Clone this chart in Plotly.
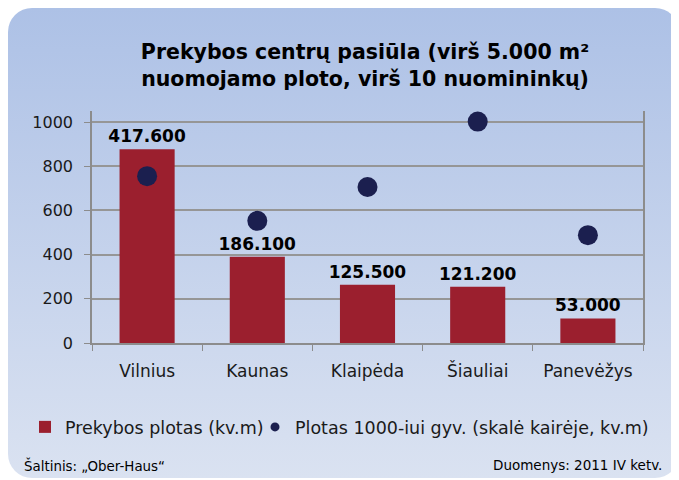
import base64
import plotly.graph_objects as go

OFF = 8                      # browser body margin
W, H = 679 - OFF, 480 - OFF  # figure size so the page fills the window
# plot area in page pixels: left 92, right 643, top 111, bottom 343
L, T = 92 - OFF, 111 - OFF
R = W - (643 - OFF)
B = H - (343 - OFF)

cities = ["Vilnius", "Kaunas", "Klaipėda", "Šiauliai", "Panevėžys"]
retail_area = [417600, 186100, 125500, 121200, 53000]          # kv.m (hidden scale)
area_per_1000 = [755, 553, 706, 1002, 488]                      # kv.m per 1000 inhabitants (left scale)
y_ticks = [0, 200, 400, 600, 800, 1000]

title_text = "<b>Prekybos centrų pasiūla (virš 5.000 m²<br>nuomojamo ploto, virš 10 nuomininkų)</b>"
bar_name = "Prekybos plotas (kv.m)"
dot_name = "Plotas 1000-iui gyv. (skalė kairėje, kv.m)"
source_text = "Šaltinis: „Ober-Haus“"
data_text = "Duomenys: 2011 IV ketv."

BAR_COLOR = "#9b1f2e"
DOT_COLOR = "#1b1f4f"

pw = W - L - R
ph = H - T - B


def px(page_x):
    return (page_x - OFF - L) / pw


def py(page_y):
    return (H - B - (page_y - OFF)) / ph


svg = f'''<svg xmlns="http://www.w3.org/2000/svg" width="{W}" height="{H}" viewBox="0 0 {W} {H}" preserveAspectRatio="none">
<defs><linearGradient id="g" x1="0" y1="0" x2="0" y2="1">
<stop offset="0" stop-color="#adc1e6"/><stop offset="1" stop-color="#dae2f1"/></linearGradient></defs>
<rect x="0" y="0" width="{W}" height="{H - 2}" rx="24" ry="24" fill="url(#g)"/>
</svg>'''
src = "data:image/svg+xml;base64," + base64.b64encode(svg.encode()).decode()

fig = go.Figure()

fig.add_trace(go.Bar(
    x=cities, y=retail_area, name=bar_name, yaxis="y",
    marker=dict(color=BAR_COLOR, line=dict(width=0)),
    width=0.5,
    texttemplate="<b>%{y:,.0f}</b>", textposition="outside", constraintext="none",
    textfont=dict(family="DejaVu Sans", size=17, color="#000000"),
    cliponaxis=False, showlegend=True, legendwidth=185,
))

fig.add_trace(go.Scatter(
    x=cities, y=area_per_1000, mode="markers", name=dot_name, yaxis="y2",
    marker=dict(color=DOT_COLOR, size=20), showlegend=False, cliponaxis=False,
))
fig.add_trace(go.Scatter(
    x=[None], y=[None], mode="markers", name=dot_name, yaxis="y2",
    marker=dict(color=DOT_COLOR, size=9), showlegend=True, legendwidth=356,
))

axis_font = dict(family="DejaVu Sans", size=16, color="#1a1a1a")

fig.update_layout(
    width=W, height=H,
    margin=dict(l=L, r=R, t=T, b=B, autoexpand=False),
    paper_bgcolor="rgba(0,0,0,0)", plot_bgcolor="rgba(0,0,0,0)",
    separators=",.",
    title=dict(text=title_text, xref="container", x=(365 - OFF) / W, xanchor="center",
               yref="container", y=1 - (59 - OFF) / H, yanchor="middle",
               font=dict(family="DejaVu Sans", size=20.5, color="#000000")),
    xaxis=dict(showline=True, linecolor="#8c8c8c", linewidth=1.5, automargin=False,
               ticks="outside", tickson="boundaries", ticklen=6, tickcolor="#8c8c8c",
               ticklabelstandoff=12,
               tickfont=dict(family="DejaVu Sans", size=17, color="#1a1a1a"),
               showgrid=False, zeroline=False),
    yaxis=dict(range=[0, 500000], visible=False, showgrid=False, zeroline=False,
               automargin=False),
    yaxis2=dict(range=[0, 1050], tickvals=y_ticks, overlaying="y", side="left",
                showline=True, mirror=True, automargin=False,
                linecolor="#8c8c8c", linewidth=1.5, ticks="outside", ticklen=6,
                tickcolor="#8c8c8c", showgrid=True, gridcolor="#969696", gridwidth=1.5,
                ticklabelstandoff=8, tickfont=axis_font, zeroline=False),
    legend=dict(orientation="h", x=px(25), xanchor="left", y=py(427), yanchor="middle",
                font=dict(family="DejaVu Sans", size=17.5, color="#1a1a1a"),
                bgcolor="rgba(0,0,0,0)", itemwidth=30, tracegroupgap=0),
    images=[dict(source=src, xref="paper", yref="paper", x=-L / pw, y=1 + T / ph,
                 sizex=W / pw, sizey=H / ph, sizing="stretch", layer="below",
                 xanchor="left", yanchor="top")],
    annotations=[
        dict(text=source_text, xref="paper", yref="paper", x=px(22), y=py(465),
             xanchor="left", yanchor="middle", showarrow=False,
             font=dict(family="DejaVu Sans", size=13.4, color="#000000")),
        dict(text=data_text, xref="paper", yref="paper", x=px(664), y=py(465),
             xanchor="right", yanchor="middle", showarrow=False,
             font=dict(family="DejaVu Sans", size=13.5, color="#000000")),
    ],
)

fig.write_html("out.html")
